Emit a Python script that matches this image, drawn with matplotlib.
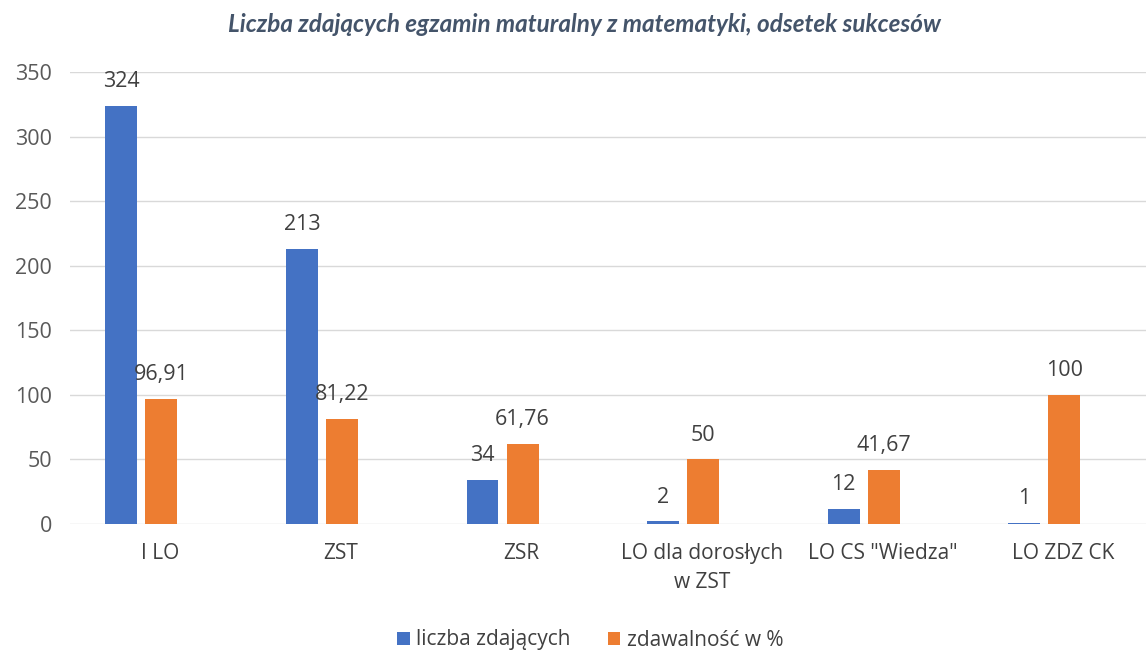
import numpy as np
import matplotlib.pyplot as plt

categories = ['I LO', 'ZST', 'ZSR', 'LO dla dorosłych\nw ZST', 'LO CS "Wiedza"', 'LO ZDZ CK']
liczba = [324, 213, 34, 2, 12, 1]
zdawalnosc = [96.91, 81.22, 61.76, 50, 41.67, 100]
zdaw_labels = ['96,91', '81,22', '61,76', '50', '41,67', '100']
yticks = [0, 50, 100, 150, 200, 250, 300, 350]

plt.rcParams['font.family'] = ['Open Sans', 'DejaVu Sans']

fig = plt.figure(figsize=(11.46, 6.52), dpi=100)
ax = fig.add_axes([70 / 1146, 1 - 524 / 652, 1 - 70 / 1146, (524 - 72) / 652])

x = np.arange(len(categories))
w = 0.177
b1 = ax.bar(x - 0.216, liczba, w, color='#4472C4', label='liczba zdających', zorder=3)
b2 = ax.bar(x + 0.006, zdawalnosc, w, color='#ED7D31', label='zdawalność w %', zorder=3)

for rect, v in zip(b1, liczba):
    ax.annotate(str(v), (rect.get_x() + rect.get_width() / 2, v), xytext=(0, 10),
                textcoords='offset points', ha='center', va='bottom', fontsize=15.5, color='#404040')
for rect, v, s in zip(b2, zdawalnosc, zdaw_labels):
    ax.annotate(s, (rect.get_x() + rect.get_width() / 2, v), xytext=(0, 10),
                textcoords='offset points', ha='center', va='bottom', fontsize=15.5, color='#404040')

ax.set_xlim(-0.5, -0.5 + 1076 / 180.6)
ax.set_ylim(0, 350)
ax.set_yticks(yticks)
ax.set_xticks(x)
ax.set_xticklabels(categories, fontsize=15, color='#404040', linespacing=1.45)
ax.tick_params(axis='y', labelsize=15.5, labelcolor='#595959', length=0, pad=13)
ax.tick_params(axis='x', length=0, pad=14)
ax.grid(axis='y', color='#D9D9D9', linewidth=1, zorder=0)
for s in ax.spines.values():
    s.set_visible(False)

fig.text(0.51, 1 - 25 / 652, 'Liczba zdających egzamin maturalny z matematyki, odsetek sukcesów',
         ha='center', va='center', fontsize=17.5, fontweight='bold', fontstyle='italic',
         color='#44546A', family=['Lato', 'DejaVu Sans'])

fig.legend(handles=[b1, b2], loc='center', bbox_to_anchor=(0.515, 1 - 640 / 652), ncol=2,
           frameon=False, fontsize=15, handlelength=0.6, handleheight=0.6, columnspacing=1.8,
           handletextpad=0.3, labelcolor='#404040')

fig.savefig('out.png', dpi=100)
